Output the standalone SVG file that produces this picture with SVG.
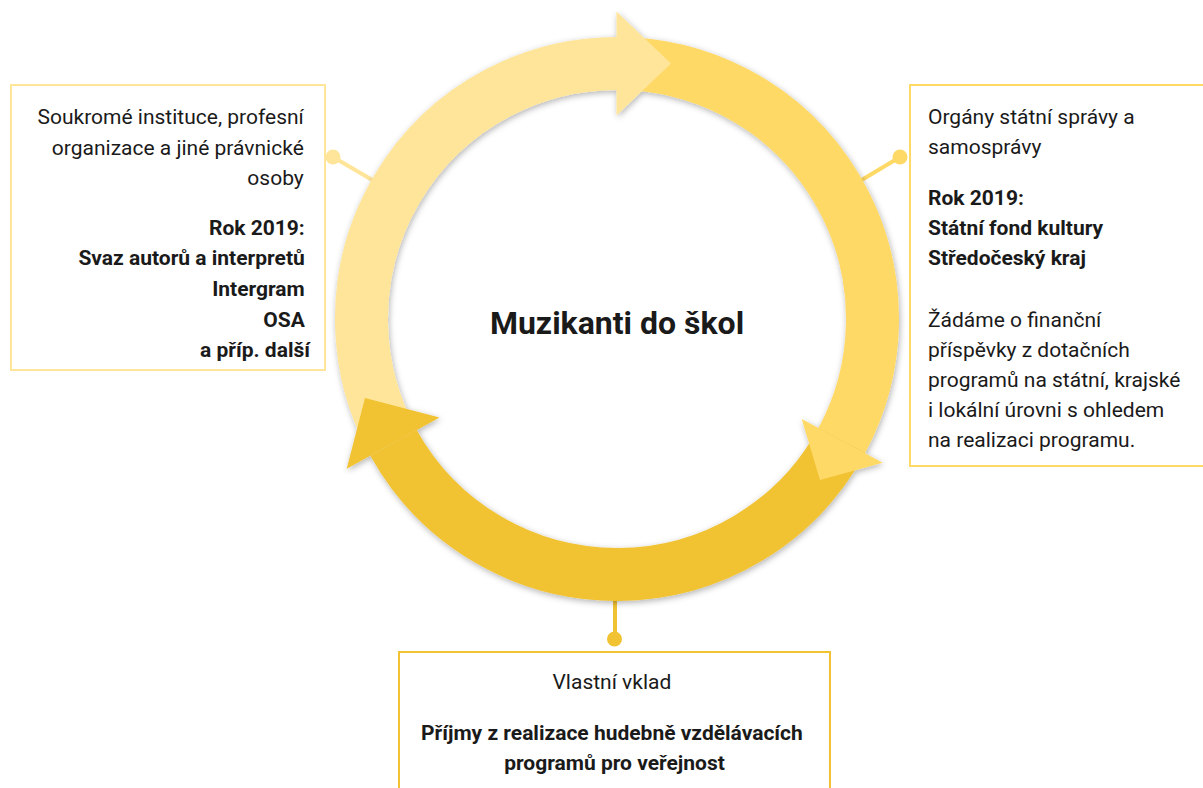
<svg xmlns="http://www.w3.org/2000/svg" width="1203" height="788" viewBox="0 0 1203 788">
<defs>
<style>
.t{font-family:Roboto,"Liberation Sans",sans-serif;font-size:21px;fill:#1a1a1a}
.b{font-weight:bold}
.box{fill:#fff;stroke-width:2}
.band{fill:none;stroke-width:53}
.con{stroke-width:4;fill:none}
</style>
<filter id="sh" x="-20%" y="-20%" width="140%" height="140%">
<feDropShadow dx="1" dy="2" stdDeviation="3" flood-color="#000" flood-opacity="0.3"/>
</filter>
</defs>
<rect width="1203" height="788" fill="#fff"/>
<g id="connectors">
<line class="con" x1="333" y1="157" x2="374" y2="181" stroke="#ffe599"/>
<circle cx="333" cy="157" r="7.5" fill="#ffe599"/>
<line class="con" x1="900" y1="157" x2="860" y2="181" stroke="#ffd966"/>
<circle cx="900" cy="157" r="7.5" fill="#ffd966"/>
<line class="con" x1="615" y1="598" x2="615" y2="639" stroke="#f1c232"/>
<circle cx="614.5" cy="639" r="7.5" fill="#f1c232"/>
</g>
<g id="cycle" filter="url(#sh)">
<path class="band" stroke="#ffe599" d="M393.53,442.87 A255.5,255.5 0 0 1 617,63.5"/>
<path class="band" stroke="#ffd966" d="M617,63.5 A255.5,255.5 0 0 1 841.75,440.52"/>
<path class="band" stroke="#f1c232" d="M841.75,440.52 A255.5,255.5 0 0 1 393.53,442.87"/>
<polygon fill="#ffe599" points="616.5,11.5 671,63.5 616.5,115.5"/>
<polygon fill="#ffd966" points="801.7,418.9 820,480 882.7,462.7"/>
<polygon fill="#f1c232" points="439.5,417.4 365,398 346.7,468.8"/>
</g>
<g id="center">
<text class="t b" x="617" y="334" text-anchor="middle" style="font-size:32px">Muzikanti do škol</text>
</g>
<g id="left-box">
<rect class="box" x="11" y="85" width="314" height="285" stroke="#ffe599"/>
<text class="t" text-anchor="end">
<tspan x="309" y="124">Soukromé instituce, profesní</tspan>
<tspan x="309" y="155">organizace a jiné právnické</tspan>
<tspan x="309" y="185">osoby</tspan>
<tspan x="310" y="235" class="b">Rok 2019:</tspan>
<tspan x="310" y="265" class="b">Svaz autorů a interpretů</tspan>
<tspan x="310" y="296" class="b">Intergram</tspan>
<tspan x="310" y="327" class="b">OSA</tspan>
<tspan x="310" y="357" class="b">a příp. další</tspan>
</text>
</g>
<g id="right-box">
<rect class="box" x="910" y="85" width="310" height="381" stroke="#ffd966"/>
<text class="t">
<tspan x="928" y="124">Orgány státní správy a</tspan>
<tspan x="928" y="154">samosprávy</tspan>
<tspan x="928" y="205" class="b">Rok 2019:</tspan>
<tspan x="928" y="235" class="b">Státní fond kultury</tspan>
<tspan x="928" y="265" class="b">Středočeský kraj</tspan>
<tspan x="928" y="327">Žádáme o finanční</tspan>
<tspan x="928" y="357">příspěvky z dotačních</tspan>
<tspan x="928" y="387">programů na státní, krajské</tspan>
<tspan x="928" y="417">i lokální úrovni s ohledem</tspan>
<tspan x="928" y="447">na realizaci programu.</tspan>
</text>
</g>
<g id="bottom-box">
<rect class="box" x="399" y="652" width="431" height="160" stroke="#f1c232"/>
<text class="t" text-anchor="middle">
<tspan x="614.5" y="689">Vlastní vklad</tspan>
<tspan x="614.5" y="740" class="b">Příjmy z realizace hudebně vzdělávacích</tspan>
<tspan x="614.5" y="770" class="b">programů pro veřejnost</tspan>
</text>
</g>
</svg>
